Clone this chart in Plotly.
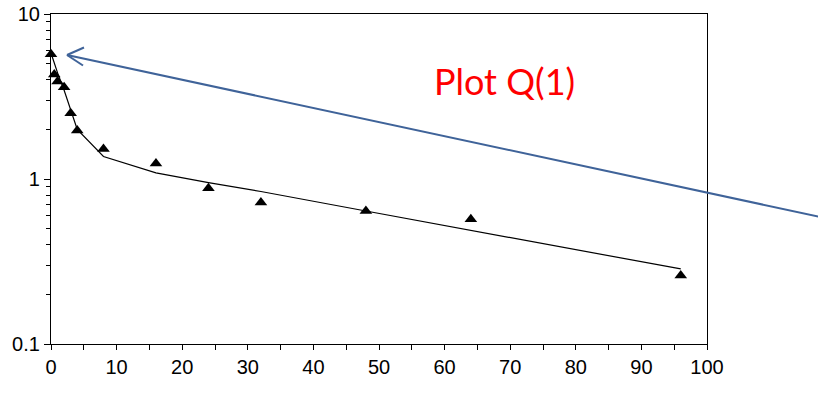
import plotly.graph_objects as go

# Observed data (triangles)
obs_x = [0, 0.5, 1, 2, 3, 4, 8, 16, 24, 32, 48, 64, 96]
obs_y = [5.7, 4.3, 3.9, 3.6, 2.5, 1.97, 1.52, 1.24, 0.88, 0.72, 0.64, 0.57, 0.26]

# Fitted curve (line)
fit_x = [0, 0.5, 1, 2, 3, 4, 8, 16, 24, 32, 48, 64, 96]
fit_y = [5.8, 5.0, 4.4, 3.45, 2.62, 2.0, 1.37, 1.09, 0.95, 0.84, 0.64, 0.49, 0.285]

x_ticks = [0, 10, 20, 30, 40, 50, 60, 70, 80, 90, 100]
y_ticks = [0.1, 1, 10]
y_tick_labels = ["0.1", "1", "10"]
y_minor = [0.2, 0.3, 0.4, 0.5, 0.6, 0.7, 0.8, 0.9, 2, 3, 4, 5, 6, 7, 8, 9]

label_text = "Plot Q(1)"

fig = go.Figure()
fig.add_trace(go.Scatter(x=fit_x, y=fit_y, mode="lines",
                         line=dict(color="black", width=1.2), showlegend=False))
fig.add_trace(go.Scatter(x=obs_x, y=obs_y, mode="markers",
                         marker=dict(symbol="triangle-up", size=11, color="black"),
                         showlegend=False, cliponaxis=False))

W, H = 818, 398
L, R, T, B = 51, 111, 14, 54
pw, ph = W - L - R, H - T - B

def px(xp):
    return (xp - L) / pw

def py(yp):
    return 1 - (yp - T) / ph

blue = "#3F6399"
tip = (67, 55)
tail = (818 + 60, 55 + (818 + 60 - 67) * 0.215)
shapes = [
    dict(type="line", xref="paper", yref="paper",
         x0=px(tip[0]), y0=py(tip[1]), x1=px(tail[0]), y1=py(tail[1]),
         line=dict(color=blue, width=2)),
    dict(type="line", xref="paper", yref="paper",
         x0=px(tip[0]), y0=py(tip[1]), x1=px(84), y1=py(47.5),
         line=dict(color=blue, width=2)),
    dict(type="line", xref="paper", yref="paper",
         x0=px(tip[0]), y0=py(tip[1]), x1=px(83), y1=py(65.5),
         line=dict(color=blue, width=2)),
]

fig.update_layout(
    width=W, height=H,
    margin=dict(l=L, r=R, t=T, b=B, autoexpand=False),
    paper_bgcolor="white", plot_bgcolor="white",
    font=dict(family="Liberation Sans, Arial, sans-serif", size=20, color="black"),
    shapes=shapes,
    annotations=[dict(text=label_text, xref="paper", yref="paper",
                      x=px(504), y=py(81), xanchor="center", yanchor="middle",
                      showarrow=False,
                      font=dict(family="Lato, Carlito, sans-serif", size=36, color="#FF0000"))],
)
fig.update_xaxes(range=[0, 100], tickvals=x_ticks, ticks="outside", ticklen=5,
                 tickcolor="black", showgrid=False, zeroline=False, automargin=False,
                 ticklabeloverflow="allow",
                 showline=True, linecolor="black", linewidth=1.2, mirror=True,
                 minor=dict(dtick=5, tick0=0, ticks="outside", ticklen=5, tickcolor="black", showgrid=False))
fig.update_yaxes(type="log", range=[-1, 1.0001], tickvals=y_ticks, ticktext=y_tick_labels,
                 ticks="outside", ticklen=6, tickcolor="black", showgrid=False, zeroline=False,
                 automargin=False, ticklabeloverflow="allow",
                 showline=True, linecolor="black", linewidth=1.2, mirror=True,
                 minor=dict(tickvals=y_minor, ticks="outside", ticklen=4, tickcolor="black", showgrid=False))

fig.write_html("out.html", config={"displayModeBar": False},
               post_script="document.body.style.margin='0';document.body.style.overflow='hidden';")
